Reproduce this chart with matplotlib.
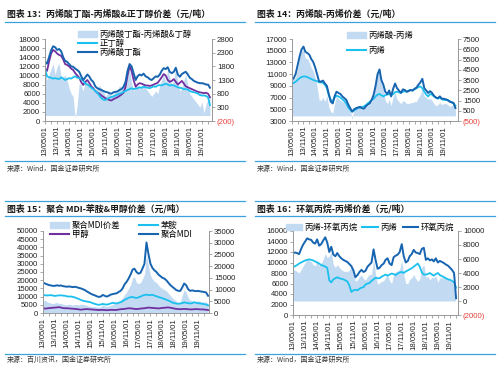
import matplotlib
matplotlib.use("Agg")
import matplotlib.pyplot as plt
import matplotlib.dates as mdates
from matplotlib.patches import Patch
from matplotlib.lines import Line2D
import pandas as pd

plt.rcParams['font.family'] = ['Liberation Sans', 'Noto Sans CJK SC', 'DejaVu Sans']
CJK = ['Noto Sans CJK SC', 'DejaVu Sans']

W, H = 499, 368
START = '2013-05-01'

# ---------------- data (monthly, from 2013-05) ----------------
# Panel 13
p13_ba = [13000,12600,14000,15500,16400,16200,15600,15800,15300,14000,13200,13000,12500,12000,11900,11500,
          11200,10800,9800,9000,9600,10200,9800,9000,8600,7600,7200,7000,6800,6600,6400,6300,6100,6000,6300,
          6400,6500,6800,7000,7500,8600,11000,12500,12000,10500,9000,9800,10200,10000,10400,9800,9600,9200,
          9000,9400,9800,9700,10200,11000,11600,11400,11800,10800,10500,10800,11700,10200,9700,10300,10600,
          10800,10200,9500,9200,8800,8600,8400,8300,8300,8200,8000,8000,7300]
p13_aa = [11500,11000,13000,14800,15600,15300,14800,14500,14300,13500,12500,12300,12000,11500,11200,10500,
          10000,9500,8500,7900,8600,9000,8400,7600,7200,6600,6200,6000,5600,5300,5000,4800,4600,4500,4800,
          5000,5200,5500,5800,6200,7500,10000,12000,11000,9000,7500,8000,8300,8200,8000,7800,7800,7700,7800,
          8000,8200,8400,9000,9600,10300,10000,9000,8600,8800,9200,8600,8000,8400,8800,8200,7600,7400,7200,
          7000,6800,6600,6400,6300,6200,6100,6200,6000,5200]
p13_nba = [11500,9800,9600,9500,9300,9400,9300,9200,9600,9300,9000,9200,9400,9300,9600,9800,9500,9400,9200,
           8800,8200,8000,7700,7300,7000,6600,6200,5600,5000,4700,4600,4900,5100,5300,5400,5600,5800,6000,
           6100,6400,6600,6800,7000,7200,7000,7100,7200,7400,7300,7500,7400,7300,7200,7400,7600,7500,7800,
           7900,7800,8000,8200,8000,7800,7900,7800,7600,7400,7300,7200,7000,7000,6900,6600,6400,6300,6200,
           6000,5700,5600,5600,5500,5200,3500]
p13_spread = [1600,1300,1500,1700,1900,1500,1800,1900,1400,1400,1500,1300,1000,800,700,-100,400,1200,1100,
              900,1300,1200,1100,1000,900,900,1000,1100,1000,900,700,800,900,700,800,900,900,1100,1000,1200,
              1300,1500,1700,1200,900,1000,1100,1000,1100,1200,1000,900,800,700,800,900,800,1100,1300,1500,
              1200,1700,1400,1100,1300,1800,1200,900,1000,1300,1500,1100,800,700,600,500,400,300,500,100,400,
              600,700]

# Panel 14
p14_aa = [10000,10300,11000,12500,14000,15200,15700,14800,14600,14300,13600,13100,12200,11000,9800,9700,9900,
          9400,9000,7600,6300,6000,7200,8000,7800,7600,7200,6900,6600,5800,5200,4600,5000,5200,5300,5400,5200,
          5100,5500,5800,6000,6600,7500,9000,11000,11800,10000,9200,8000,7600,8200,7200,8500,9400,8600,8200,
          7800,8400,8300,8000,8100,8300,8200,8500,8700,9200,9600,10200,8600,8200,7800,8100,7800,7300,7000,
          6900,7200,6800,6800,6700,6600,6300,6200,6100,5200]
p14_pp = [9300,9500,9700,10000,10300,10500,10600,10600,10500,10300,10200,10000,9900,9800,9600,9600,9500,9200,
          8600,7400,6600,6400,7000,7300,7200,7000,6700,6400,6000,5300,4900,4600,4800,5000,5200,5300,5400,5500,
          5700,6000,6300,6600,6800,7200,7500,7600,7400,7200,7400,7500,7600,7400,7600,7900,8000,7900,7800,8000,
          8100,8000,8200,8300,8200,8400,8600,8800,8900,8600,8000,7500,7200,7600,7500,7200,7000,6800,7000,6700,
          6600,6600,6500,6400,6200,6000,5600]
p14_spread = [3500,3600,3800,4600,5800,6300,6500,5600,5600,5200,4700,4400,3800,2900,1600,1500,1800,1400,2000,
              900,400,300,1200,1900,1700,1500,1400,1300,1500,1000,600,-300,800,900,1000,1000,700,700,900,1000,
              1100,1400,2000,3200,4400,4600,3200,2600,1500,1200,1600,1000,1900,2300,1600,1400,1200,1500,1400,
              1200,1200,1300,1300,1400,1400,1800,2100,2600,1900,1800,1600,1700,1500,1200,1000,1100,1300,1100,
              1200,1200,1100,900,1000,1100,500]

# Panel 15
p15_mdi = [18400,18000,17500,17000,16800,16500,16600,16900,16600,16800,16400,16200,16000,16200,16000,15800,
           16000,15700,15300,15000,14500,14000,13200,12500,11800,11200,10800,10200,9800,10000,11000,10500,10000,
           10500,11200,11500,11800,12000,12800,13500,15000,17500,19000,21000,23500,26500,27000,25000,24000,
           24500,27000,30000,43000,36000,30000,27500,26000,25000,23500,22500,21500,21000,20000,18500,17000,
           16000,15000,14000,13500,13500,15500,18000,17000,14500,13500,13800,13500,13300,13500,13200,13000,
           12800,12500,10500]
p15_ani = [11000,10800,10700,10800,10900,10600,10400,10600,10700,10800,10600,10500,10200,10000,10100,9800,9500,
           9000,8500,8000,7500,7200,7000,6800,6500,6000,5600,5200,5000,5200,5500,5300,5100,5400,5800,6200,6000,
           5800,6200,6600,7200,8000,8600,9300,9600,9800,9400,9200,9500,10000,10600,11000,11200,10800,11000,
           11100,10600,10200,9800,9400,9000,8600,8100,7600,7000,6400,6000,5800,5600,5800,6000,6500,6200,6000,
           5800,6000,6600,6200,6000,5800,5600,5400,5200,4600]
p15_meoh = [2800,2700,2800,3000,3100,3200,3300,3400,3600,3300,3000,2900,2900,2800,2700,2600,2500,2400,2200,
            2000,2200,2300,2400,2300,2200,2100,2000,1900,1800,1900,1900,1800,1700,1800,1900,1900,1800,1900,2100,
            2300,2400,2500,2700,2900,2800,2700,2500,2400,2500,2700,2800,2900,3100,3300,3200,3100,3000,2900,2800,
            2900,3100,3200,3300,3400,3200,3000,2700,2500,2400,2300,2400,2500,2400,2300,2200,2200,2300,2400,2300,
            2200,2200,2100,2000,1800]
p15_spread = [5000,5500,4800,4500,4200,4000,4300,4500,4000,4200,3800,3600,3500,3800,3600,3400,3700,3600,3500,
              3800,3700,3600,3200,3000,2800,2700,2800,2600,2500,2600,3500,3000,2800,3000,3300,3600,4000,4500,
              5000,5500,6500,8000,9000,10500,12000,15000,15500,13000,12500,13000,14500,16500,25000,20000,16000,
              14500,13500,13000,12000,11000,10500,10000,9500,8500,7500,6500,5800,5000,4500,4800,7500,10000,9000,
              6500,5500,5200,4800,4900,5200,5000,4800,4600,4800,4000]

# Panel 16
p16_po = [11800,11900,11800,11600,12600,13400,14000,14600,14400,14300,13800,13600,14400,13200,13500,14200,14800,
          13800,12000,13000,11500,11200,11800,11200,10800,10500,10300,10100,9700,9300,8500,7200,7600,8200,8600,
          8200,8400,9200,9600,10000,12500,10500,8800,9000,9500,9800,10500,10800,9800,9500,11000,11300,11500,
          12000,13500,11200,10000,10300,11200,11600,12400,11900,11800,11600,12600,12800,10500,10800,10400,10600,
          10200,10800,10000,10300,10100,9900,9600,9400,9000,8600,8000,3200]
p16_pp = [9100,9300,9500,9800,10000,10200,10400,10500,10600,10500,10400,10200,10000,9800,9500,9400,9200,9000,
          6600,6200,6800,7000,7200,7000,6900,6800,6600,6400,5600,4400,4700,4800,4700,5000,5200,5300,5800,6000,
          6100,6500,6800,7100,7000,7000,7300,7500,7700,7500,7700,7900,7800,7600,7900,8100,8200,8000,8300,8500,
          8700,8900,9200,9500,9800,9200,8100,7700,7700,7800,8000,7700,7500,7800,8000,7600,7400,7200,7000,6800,
          6700,6500,6200,5200]
p16_spread = [4500,4400,4200,4000,4500,5000,5500,6000,5800,5600,5200,5000,5800,5000,5400,6000,6800,6200,6400,
              7000,5200,4800,5200,4800,4500,4300,4200,4200,4400,5000,4200,2800,3000,3500,3700,3200,3000,3500,
              3800,3800,6000,3800,2400,2600,2800,2900,3400,3800,2900,2500,3800,4200,4300,4500,5800,3800,2500,
              2500,3100,3300,3800,3200,2800,3100,4800,5200,3400,3500,3000,3400,3300,3600,2700,3300,3300,3300,
              3200,3200,2900,2700,2200,-300]

# tick values
p13_left = list(range(0, 18001, 2000));  p13_right = list(range(-200, 2801, 500))
p14_left = list(range(3000, 17001, 2000)); p14_right = list(range(-500, 7501, 1000))
p15_left = list(range(0, 50001, 5000));  p15_right = list(range(0, 35001, 5000))
p16_left = list(range(0, 16001, 2000));  p16_right = list(range(-2000, 10001, 2000))

titles = ["图表 13：丙烯酸丁酯-丙烯酸&正丁醇价差（元/吨）",
          "图表 14：丙烯酸-丙烯价差（元/吨）",
          "图表 15：聚合 MDI-苯胺&甲醇价差（元/吨）",
          "图表 16：环氧丙烷-丙烯价差（元/吨）"]
sources = ["来源：Wind，国金证券研究所", "来源：Wind，国金证券研究所",
           "来源：百川资讯，国金证券研究所", "来源：Wind，国金证券研究所"]

# ---------------- styles ----------------
DARK = '#1764B0'
CYAN = '#1CC0EE'
PURP = '#7030A0'
AREA = '#C3DBF2'
RULE = '#3AA3DD'
SPINE = '#9A9A9A'
TXT = '#222222'
RED = '#E8413C'

fig = plt.figure(figsize=(W / 100, H / 100), dpi=100)
fig.patch.set_facecolor('white')


def rect(l, r, t, b):
    return [l / W, 1 - b / H, (r - l) / W, (b - t) / H]


def fx(x):
    return x / W


def fy(y):
    return 1 - y / H


def fmt(v):
    return f"({abs(v)})" if v < 0 else f"{v}"


def make_panel(box, n, end, left_ticks, right_ticks):
    ax = fig.add_axes(rect(*box))
    ax2 = ax.twinx()
    ax.set_zorder(ax2.get_zorder() + 1)
    ax.patch.set_visible(False)
    dates = pd.date_range(START, periods=n, freq='MS')
    for a in (ax, ax2):
        a.set_xlim(pd.Timestamp(START), pd.Timestamp(end))
        for s in a.spines.values():
            s.set_color(SPINE)
            s.set_linewidth(0.7)
        a.spines['top'].set_visible(False)
        a.tick_params(colors=SPINE, labelcolor=TXT, labelsize=5.6, length=2, width=0.6, pad=1.5)
    ax.set_ylim(left_ticks[0], left_ticks[-1])
    ax2.set_ylim(right_ticks[0], right_ticks[-1])
    ax.set_yticks(left_ticks, labels=[fmt(v) for v in left_ticks])
    ax2.set_yticks(right_ticks, labels=[fmt(v) for v in right_ticks])
    for v, lab in zip(right_ticks, ax2.get_yticklabels()):
        if v < 0:
            lab.set_color(RED)
    ax.xaxis.set_major_locator(mdates.MonthLocator(bymonth=[5, 11]))
    ax.xaxis.set_major_formatter(mdates.DateFormatter('%y/%m/%d'))
    ax.xaxis.set_minor_locator(mdates.MonthLocator(bymonth=[2, 8]))
    ax.tick_params(axis='x', which='both', rotation=90, length=2, color=SPINE)
    ax.set_xticks([t for t in ax.get_xticks() if t <= mdates.date2num(pd.Timestamp('2019-11-01'))])
    ax2.tick_params(axis='x', bottom=False, labelbottom=False)
    return ax, ax2, dates


def header(x0, x1, ytitle, title, yline_top=None, yline=None):
    if yline_top is not None:
        fig.add_artist(Line2D([fx(x0), fx(x1)], [fy(yline_top)] * 2, color=RULE, lw=0.9))
    fig.add_artist(Line2D([fx(x0), fx(x1)], [fy(yline)] * 2, color=RULE, lw=0.9))
    fig.text(fx(x0 + 2), fy(ytitle), title, family=CJK, fontsize=6.4, fontweight='bold',
             color='#1a1a1a', va='center', ha='left')


def footer(x0, x1, yline, ysrc, src):
    fig.add_artist(Line2D([fx(x0), fx(x1)], [fy(yline)] * 2, color=RULE, lw=0.9))
    fig.text(fx(x0 + 2), fy(ysrc), src, family=CJK, fontsize=5, color='#333333', va='center', ha='left')


leg_kw = dict(frameon=False, prop={'family': CJK, 'size': 6}, borderpad=0, borderaxespad=0,
              handletextpad=0.3, loc='upper left')

# ---------- Panel 13 ----------
header(5, 245, 14, titles[0], None, 22)
ax, ax2, d = make_panel((45, 212, 39, 121), len(p13_ba), '2020-04-01', p13_left, p13_right)
ax2.fill_between(d, 0, p13_spread, color=AREA, lw=0)
ax.plot(d, p13_aa, color=PURP, lw=1.3)
ax.plot(d, p13_nba, color=CYAN, lw=1.3)
ax.plot(d, p13_ba, color=DARK, lw=1.4)
fig.legend([Patch(color=AREA), Line2D([], [], color=CYAN, lw=1.5), Line2D([], [], color=DARK, lw=1.5)],
           ["丙烯酸丁酯-丙烯酸&丁醇", "正丁醇", "丙烯酸丁酯"], handlelength=2.3,
           bbox_to_anchor=(fx(78), fy(29.5)), labelspacing=0.05, **leg_kw)
footer(5, 245, 161, 169, sources[0])

# ---------- Panel 14 ----------
header(255, 495, 14, titles[1], None, 22)
ax, ax2, d = make_panel((291.7, 458, 39, 121), len(p14_aa), '2020-06-10', p14_left, p14_right)
ax2.fill_between(d, 0, p14_spread, color=AREA, lw=0)
ax.plot(d, p14_pp, color=CYAN, lw=1.3)
ax.plot(d, p14_aa, color=DARK, lw=1.4)
fig.legend([Patch(color=AREA), Line2D([], [], color=CYAN, lw=1.5)],
           ["丙烯酸-丙烯", "丙烯"], handlelength=2.3,
           bbox_to_anchor=(fx(347), fy(31)), labelspacing=0.75, **leg_kw)
footer(255, 495, 161, 169, sources[1])

# ---------- Panel 15 ----------
header(5, 245, 209, titles[2], 201, 216)
ax, ax2, d = make_panel((43, 209, 231, 313), len(p15_mdi), '2020-04-15', p15_left, p15_right)
ax2.fill_between(d, 0, p15_spread, color=AREA, lw=0)
ax.plot(d, p15_meoh, color=PURP, lw=1.3)
ax.plot(d, p15_ani, color=CYAN, lw=1.3)
ax.plot(d, p15_mdi, color=DARK, lw=1.4)
fig.legend([Patch(color=AREA), Line2D([], [], color=PURP, lw=1.5),
            Line2D([], [], color=CYAN, lw=1.5), Line2D([], [], color=DARK, lw=1.5)],
           ["聚合MDI价差", "甲醇", "苯胺", "聚合MDI"], ncol=2, columnspacing=2.2, handlelength=2.3,
           bbox_to_anchor=(fx(50), fy(221)), labelspacing=0.05, **leg_kw)
footer(5, 245, 354, 360, sources[2])

# ---------- Panel 16 ----------
header(255, 495, 208.5, titles[3], 201, 216)
ax, ax2, d = make_panel((293, 458, 231, 315), len(p16_po), '2020-03-01', p16_left, p16_right)
ax2.fill_between(d, 0, p16_spread, color=AREA, lw=0)
ax.plot(d, p16_pp, color=CYAN, lw=1.3)
ax.plot(d, p16_po, color=DARK, lw=1.4)
fig.legend([Patch(color=AREA), Line2D([], [], color=CYAN, lw=1.5), Line2D([], [], color=DARK, lw=1.5)],
           ["丙烯-环氧丙烷", "丙烯", "环氧丙烷"], ncol=3, columnspacing=0.6, handlelength=1.9,
           bbox_to_anchor=(fx(286), fy(223)), **leg_kw)
footer(255, 495, 354, 360, sources[3])

fig.savefig('out.png', dpi=100, facecolor='white')
